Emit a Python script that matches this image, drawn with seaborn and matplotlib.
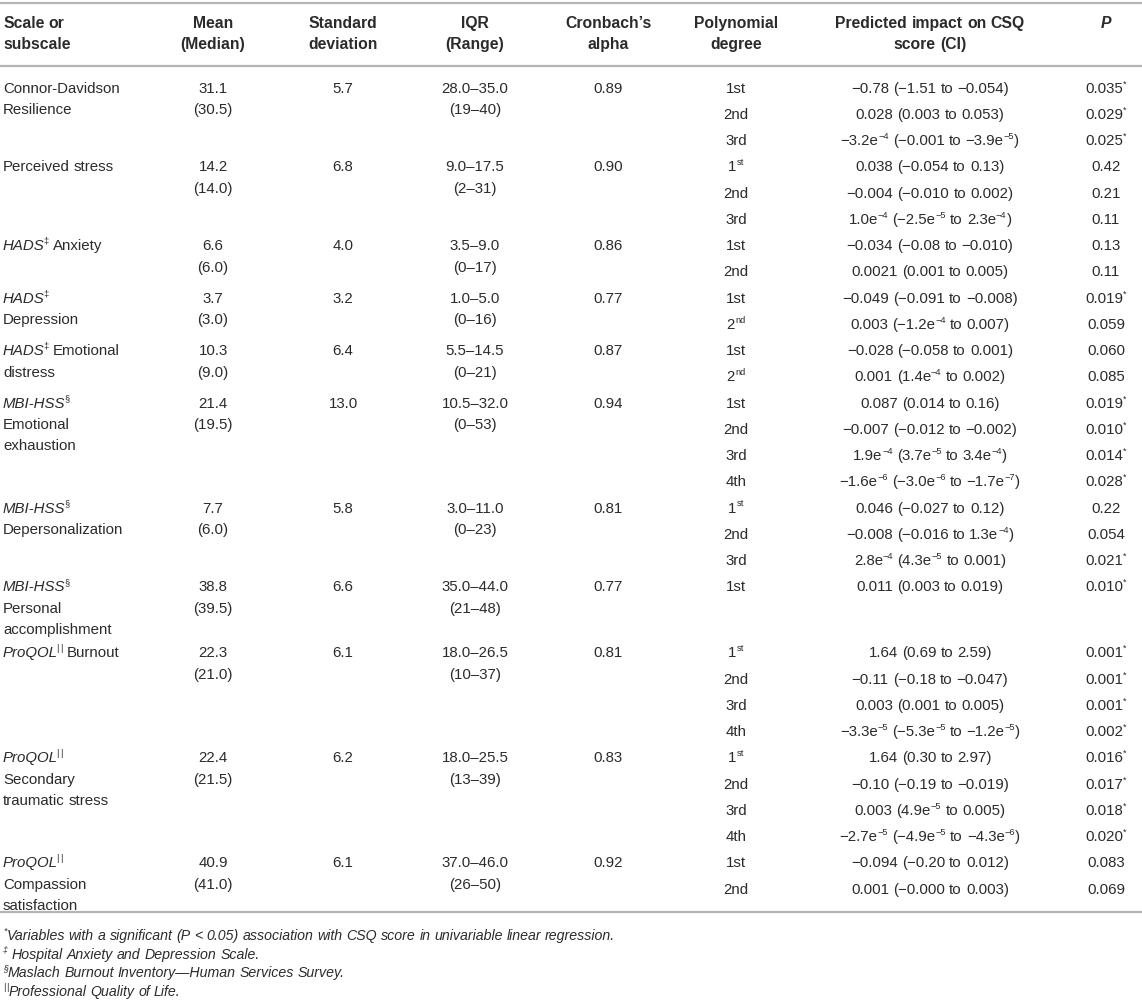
import re
import matplotlib
matplotlib.use("Agg")
import matplotlib.pyplot as plt
import seaborn as sns

# table content
headers = [["Scale or", "subscale"], ["Mean", "(Median)"], ["Standard", "deviation"],
           ["IQR", "(Range)"], ["Cronbach’s", "alpha"], ["Polynomial", "degree"],
           ["Predicted impact on CSQ", "score (CI)"], ["~P~"]]

scales = [
    ["Connor-Davidson", "Resilience"],
    ["Perceived stress"],
    ["~HADS~^{‡} Anxiety"],
    ["~HADS~^{‡}", "Depression"],
    ["~HADS~^{‡} Emotional", "distress"],
    ["~MBI-HSS~^{§}", "Emotional", "exhaustion"],
    ["~MBI-HSS~^{§}", "Depersonalization"],
    ["~MBI-HSS~^{§}", "Personal", "accomplishment"],
    ["~ProQOL~^{||} Burnout"],
    ["~ProQOL~^{||}", "Secondary", "traumatic stress"],
    ["~ProQOL~^{||}", "Compassion", "satisfaction"],
]
means = [31.1, 14.2, 6.6, 3.7, 10.3, 21.4, 7.7, 38.8, 22.3, 22.4, 40.9]
medians = [30.5, 14.0, 6.0, 3.0, 9.0, 19.5, 6.0, 39.5, 21.0, 21.5, 41.0]
sds = [5.7, 6.8, 4.0, 3.2, 6.4, 13.0, 5.8, 6.6, 6.1, 6.2, 6.1]
iqr_lo = [28.0, 9.0, 3.5, 1.0, 5.5, 10.5, 3.0, 35.0, 18.0, 18.0, 37.0]
iqr_hi = [35.0, 17.5, 9.0, 5.0, 14.5, 32.0, 11.0, 44.0, 26.5, 25.5, 46.0]
range_lo = [19, 2, 0, 0, 0, 0, 0, 21, 10, 13, 26]
range_hi = [40, 31, 17, 16, 21, 53, 23, 48, 37, 39, 50]
alphas = ["0.89", "0.90", "0.86", "0.77", "0.87", "0.94", "0.81", "0.77", "0.81", "0.83", "0.92"]
degrees = [
    ["1st", "2nd", "3rd"],
    ["1^{st}", "2nd", "3rd"],
    ["1st", "2nd"],
    ["1st", "2^{nd}"],
    ["1st", "2^{nd}"],
    ["1st", "2nd", "3rd", "4th"],
    ["1^{st}", "2nd", "3rd"],
    ["1st"],
    ["1^{st}", "2nd", "3rd", "4th"],
    ["1^{st}", "2nd", "3rd", "4th"],
    ["1st", "2nd"],
]
impacts = [
    ["−0.78 (−1.51 to −0.054)", "0.028 (0.003 to 0.053)", "−3.2e^{−4} (−0.001 to −3.9e^{−5})"],
    ["0.038 (−0.054 to 0.13)", "−0.004 (−0.010 to 0.002)", "1.0e^{−4} (−2.5e^{−5} to 2.3e^{−4})"],
    ["−0.034 (−0.08 to −0.010)", "0.0021 (0.001 to 0.005)"],
    ["−0.049 (−0.091 to −0.008)", "0.003 (−1.2e^{−4} to 0.007)"],
    ["−0.028 (−0.058 to 0.001)", "0.001 (1.4e^{−4} to 0.002)"],
    ["0.087 (0.014 to 0.16)", "−0.007 (−0.012 to −0.002)", "1.9e^{−4} (3.7e^{−5} to 3.4e^{−4})",
     "−1.6e^{−6} (−3.0e^{−6} to −1.7e^{−7})"],
    ["0.046 (−0.027 to 0.12)", "−0.008 (−0.016 to 1.3e^{−4})", "2.8e^{−4} (4.3e^{−5} to 0.001)"],
    ["0.011 (0.003 to 0.019)"],
    ["1.64 (0.69 to 2.59)", "−0.11 (−0.18 to −0.047)", "0.003 (0.001 to 0.005)",
     "−3.3e^{−5} (−5.3e^{−5} to −1.2e^{−5})"],
    ["1.64 (0.30 to 2.97)", "−0.10 (−0.19 to −0.019)", "0.003 (4.9e^{−5} to 0.005)",
     "−2.7e^{−5} (−4.9e^{−5} to −4.3e^{−6})"],
    ["−0.094 (−0.20 to 0.012)", "0.001 (−0.000 to 0.003)"],
]
pvals = [
    ["0.035^{*}", "0.029^{*}", "0.025^{*}"],
    ["0.42", "0.21", "0.11"],
    ["0.13", "0.11"],
    ["0.019^{*}", "0.059"],
    ["0.060", "0.085"],
    ["0.019^{*}", "0.010^{*}", "0.014^{*}", "0.028^{*}"],
    ["0.22", "0.054", "0.021^{*}"],
    ["0.010^{*}"],
    ["0.001^{*}", "0.001^{*}", "0.001^{*}", "0.002^{*}"],
    ["0.016^{*}", "0.017^{*}", "0.018^{*}", "0.020^{*}"],
    ["0.083", "0.069"],
]
footnotes = [
    "^{*}Variables with a significant (P < 0.05) association with CSQ score in univariable linear regression.",
    "^{‡} Hospital Anxiety and Depression Scale.",
    "^{§}Maslach Burnout Inventory—Human Services Survey.",
    "^{||}Professional Quality of Life.",
]

# layout (pixels)
W, H = 1142, 1008
COL_X = [3, 213, 343, 475, 608, 736, 930, 1106]
INK = "#2b2b2b"
RULE = "#b5b5b5"
SUB = 26.25
LINE = 21.3
ROW0 = 87.5

sns.set_theme(style="white")
plt.rcParams["font.family"] = ["Liberation Sans", "DejaVu Sans"]

fig = plt.figure(figsize=(W / 100, H / 100), dpi=100)
ax = fig.add_axes([0, 0, 1, 1])
ax.set_xlim(0, W)
ax.set_ylim(H, 0)
ax.axis("off")
renderer = fig.canvas.get_renderer()


def tw(s, size, style="normal", weight="normal"):
    t = ax.text(0, 0, "|" + s + "|", fontsize=size, style=style, weight=weight)
    a = t.get_window_extent(renderer).width
    t.set_text("||")
    b = t.get_window_extent(renderer).width
    t.remove()
    return a - b


def tokens(s):
    out = []
    for part in re.split(r"(~[^~]*~|\^\{[^}]*\})", s):
        if not part:
            continue
        if part.startswith("~"):
            kind, txt = "it", part[1:-1]
        elif part.startswith("^{"):
            kind, txt = "sup", part[2:-1]
        else:
            kind, txt = "rm", part
        if kind == "sup" and txt == "||":
            # double bar mark: two thin bars with a small gap
            out += [("|", kind), ("gap", "gap"), ("|", kind)]
            continue
        for piece in re.split(r"( +)", txt):
            if piece:
                out.append((piece, kind))
    return out


def draw(x, y, s, size, weight="normal", italic=False, ha="left"):
    items = []
    prev = None
    for txt, kind in tokens(s):
        if kind == "gap":
            items.append((" ", kind, size, "normal", size * 0.12))
            prev = kind
            continue
        sz = size * 0.62 if kind == "sup" else size
        st = "italic" if (italic or kind == "it") else "normal"
        w = tw(txt, sz, st, weight)
        if kind == "sup" and prev == "it" and items:
            # tuck the mark in after the slanted letters
            t0 = items[-1]
            items[-1] = t0[:-1] + (t0[-1] - 1.5,)
        items.append((txt, kind, sz, st, w))
        prev = kind
    total = sum(it[-1] for it in items)
    x0 = x - total / 2 if ha == "center" else x
    em = size * 100 / 72
    base = y + 0.35 * em
    for txt, kind, sz, st, w in items:
        if not txt.isspace():
            yy = base - (0.42 * em if kind == "sup" else 0)
            ax.text(x0, yy, txt, fontsize=sz, style=st, weight=weight,
                    ha="left", va="baseline", color=INK)
        x0 += w


# font sizes fitted to widths measured on the reference
FS = 10 * 117 / tw("Connor-Davidson", 10)
FS_HEAD = 10 * 189 / tw("Predicted impact on CSQ", 10, weight="bold")
FS_FOOT = 10 * 232 / tw("Variables with a significant (P < 0.05)", 10, style="italic")

# rules
for yr in [3.3, 66]:
    ax.axhline(yr, color=RULE, lw=1.6)

# header
for c, lines in enumerate(headers):
    for j, line in enumerate(lines):
        draw(COL_X[c], 22.7 + j * 20.6, line, FS_HEAD, weight="bold",
             ha="left" if c == 0 else "center")

# body
y = ROW0
last_y = y
for i in range(len(scales)):
    n_sub = len(degrees[i])
    n_lines = max(len(scales[i]), 2)
    for j, line in enumerate(scales[i]):
        draw(COL_X[0], y + j * LINE, line, FS)
    draw(COL_X[1], y, f"{means[i]:.1f}", FS, ha="center")
    draw(COL_X[1], y + LINE, f"({medians[i]:.1f})", FS, ha="center")
    draw(COL_X[2], y, f"{sds[i]:.1f}", FS, ha="center")
    draw(COL_X[3], y, f"{iqr_lo[i]:.1f}–{iqr_hi[i]:.1f}", FS, ha="center")
    draw(COL_X[3], y + LINE, f"({range_lo[i]}–{range_hi[i]})", FS, ha="center")
    draw(COL_X[4], y, alphas[i], FS, ha="center")
    for k in range(n_sub):
        yk = y + k * SUB
        draw(COL_X[5], yk, degrees[i][k], FS, ha="center")
        draw(COL_X[6], yk, impacts[i][k], FS, ha="center")
        draw(COL_X[7], yk, pvals[i][k], FS, ha="center")
    last_y = y + (max(len(scales[i]), 1) - 1) * LINE
    y += max(n_sub * SUB, n_lines * LINE + 2)

ax.axhline(last_y + 7, color=RULE, lw=1.6)

# footnotes
for j, note in enumerate(footnotes):
    draw(3, 935 + j * 18.7, note, FS_FOOT, italic=True)

fig.savefig("out.png", dpi=100, facecolor="white")
